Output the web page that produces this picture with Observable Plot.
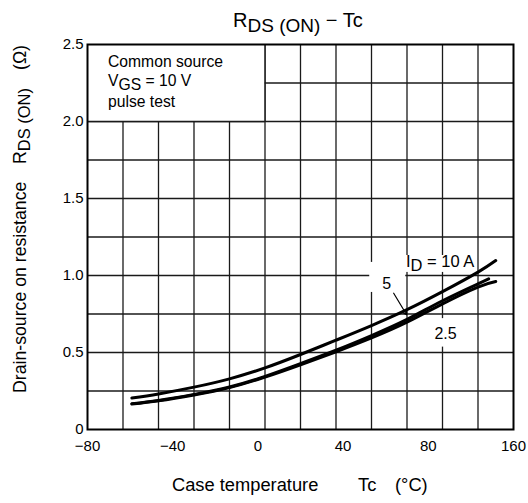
<!DOCTYPE html>
<html><head><meta charset="utf-8">
<script src="https://cdn.jsdelivr.net/npm/d3@7"></script>
<script src="https://cdn.jsdelivr.net/npm/@observablehq/plot@0.6"></script>
<style>body{margin:0;background:#fff} svg{display:block}</style>
</head><body><div id="chart"></div>
<script>
// ---- data ----
const temp10 = [-55,-40,-20,0,20,40,60,80,100,120,140,150];
const rds10  = [0.205,0.231,0.275,0.329,0.400,0.487,0.580,0.675,0.778,0.895,1.022,1.097];
const temp5  = [-55,-40,-20,0,20,40,60,80,100,120,140,146];
const rds5   = [0.168,0.189,0.228,0.276,0.345,0.428,0.515,0.610,0.715,0.836,0.946,0.978];
const temp25 = [-55,-40,-20,0,20,40,60,80,100,120,140,150];
const rds25  = [0.165,0.186,0.224,0.272,0.340,0.420,0.505,0.595,0.697,0.816,0.925,0.961];
const seriesNames = ["10 A","5 A","2.5 A"];
const xTickLabels = ["−80","−40","0","40","80","160"];
const yTicks = [0,0.5,1.0,1.5,2.0,2.5];
const yTickLabels = ["0","0.5","1.0","1.5","2.0","2.5"];
const xGrid = [-60,-40,-20,0,20,40,60,80,100,120,140];
const yGrid = [0.25,0.5,0.75,1.0,1.25,1.5,1.75,2.0,2.25];

// build table
const rows = [];
[[temp10,rds10],[temp5,rds5],[temp25,rds25]].forEach(([t,r],k)=>{
  t.forEach((v,i)=>rows.push({s:seriesNames[k], t:v, r:r[i]}));
});

const W=528,H=503,mL=87,mR=15,mT=44,mB=74;
const FONT = "'Liberation Sans', Arial, Helvetica, sans-serif";
const gridStyle = {stroke:"#1a1a1a", strokeWidth:1.3};

const legendBox = [{x1:-80,x2:20,y1:2.0,y2:2.5}];
const labelBgs = [
  {x1:79,x2:99.3,y1:0.89,y2:1.085},
  {x1:112,x2:131,y1:0.535,y2:0.72},
  {x1:98,x2:138,y1:1.02,y2:1.13}
];
const plainLabels = [{x:88.5,y:0.945,text:"5"},{x:121.7,y:0.62,text:"2.5"}];
const arrowSpec = [{x1:92.5,y1:0.885,x2:99.8,y2:0.745}];

const chart = Plot.plot({
  width:W, height:H, marginLeft:mL, marginRight:mR, marginTop:mT, marginBottom:mB,
  x:{domain:[-80,160], axis:null},
  y:{domain:[0,2.5], axis:null},
  style:{fontFamily:FONT, background:"white", color:"black"},
  marks:[
    Plot.ruleX(xGrid, {...gridStyle}),
    Plot.ruleY(yGrid, {...gridStyle}),
    Plot.rect(legendBox, {x1:"x1",x2:"x2",y1:"y1",y2:"y2", fill:"white"}),
    Plot.ruleX([20], {y1:2.0, y2:2.5, ...gridStyle}),
    Plot.ruleY([2.0], {x1:-80, x2:20, ...gridStyle}),
    Plot.rect(labelBgs, {x1:"x1",x2:"x2",y1:"y1",y2:"y2", fill:"white"}),
    Plot.line(rows, {x:"t", y:"r", z:"s", stroke:"black", strokeWidth:3, curve:"natural"}),
    Plot.arrow(arrowSpec, {x1:"x1",y1:"y1",x2:"x2",y2:"y2", stroke:"black", strokeWidth:1.2, headLength:6}),
    Plot.text(plainLabels, {x:"x", y:"y", text:"text", fontSize:16, fill:"black"}),
    Plot.frame({stroke:"black", strokeWidth:2}),
    Plot.text(yTicks, {x:-80, y:d=>d, text:(d,i)=>yTickLabels[i], textAnchor:"end", dx:-4, fontSize:15, fill:"black"}),
    Plot.text(xTickLabels, {x:(d,i)=>-80 + i*240/(xTickLabels.length-1), y:0, text:d=>d, dy:17, fontSize:15, fill:"black"})
  ]
});
document.getElementById("chart").appendChild(chart);

// rich text (subscripts) added with d3
const svg = d3.select(chart);
const g = svg.append("g").attr("font-family", FONT).attr("fill","black").attr("text-anchor","start");
const sx = chart.scale("x"), sy = chart.scale("y");

// title
const tt = g.append("text").attr("x",233).attr("y",27).attr("font-size",20);
tt.append("tspan").text("R");
tt.append("tspan").attr("font-size",19).attr("dy",5).text("DS (ON)");
tt.append("tspan").attr("dy",-5).text(" − Tc");

// legend text
g.append("text").attr("x",108).attr("y",67).attr("font-size",15.7).text("Common source");
const vg = g.append("text").attr("x",108).attr("y",86).attr("font-size",15.7);
vg.append("tspan").text("V");
vg.append("tspan").attr("dy",4).text("GS");
vg.append("tspan").attr("dy",-4).text(" = 10 V");
g.append("text").attr("x",108).attr("y",107).attr("font-size",15.7).text("pulse test");

// ID label
const id = g.append("text").attr("x",406).attr("y",267).attr("font-size",16.5);
id.append("tspan").text("I");
id.append("tspan").attr("dy",4).text("D");
id.append("tspan").attr("dy",-4).text(" = 10 A");

// x axis title
const xl = g.append("text").attr("y",491).attr("font-size",18.3);
xl.append("tspan").attr("x",172).text("Case temperature");
xl.append("tspan").attr("x",358).text("Tc");
xl.append("tspan").attr("x",395).text("(°C)");

// y axis title (rotated)
const yl = g.append("text").attr("transform","rotate(-90)").attr("y",26).attr("font-size",17.7);
yl.append("tspan").attr("x",-393).text("Drain-source on resistance");
yl.append("tspan").attr("x",-164).text("R");
yl.append("tspan").attr("dy",4).attr("font-size",16.5).text("DS (ON)");
yl.append("tspan").attr("dy",-4).attr("x",-70).text("(Ω)");
</script>
</body></html>
